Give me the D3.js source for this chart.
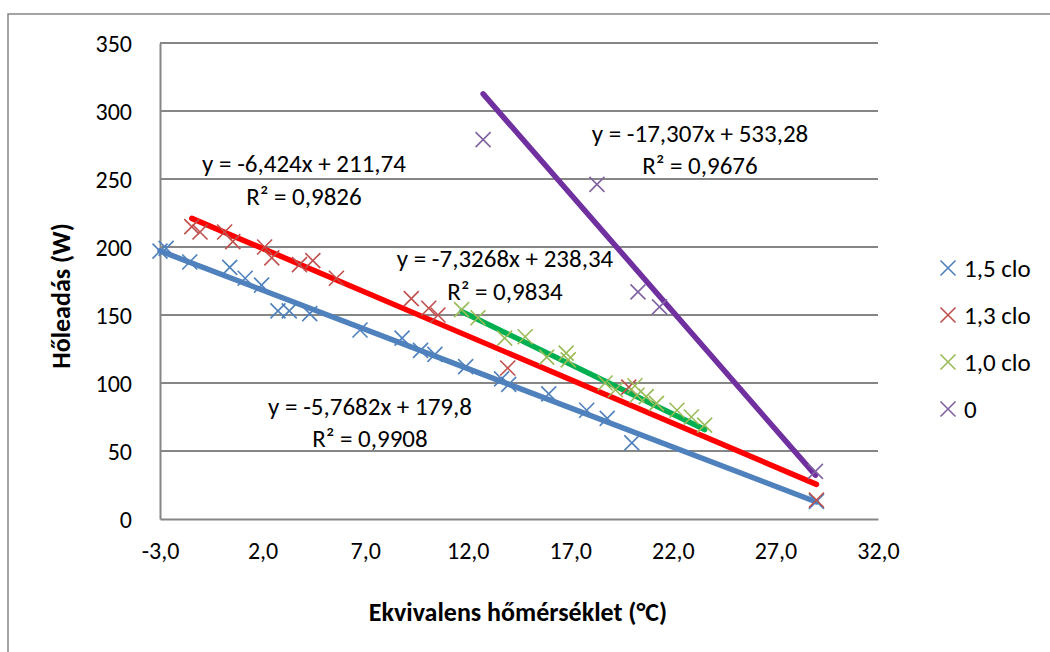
<!DOCTYPE html>
<html>
<head>
<meta charset="utf-8">
<script src="https://cdn.jsdelivr.net/npm/d3@7"></script>
<style>
  html, body { margin: 0; padding: 0; background: #fff; }
  svg { display: block; }
  text { font-family: Carlito, Lato, "Open Sans", sans-serif; fill: #000; }
</style>
</head>
<body>
<svg id="chart" width="1050" height="652"></svg>
<script>
// Equivalent temperature (°C) vs. heat loss (W) for four clothing levels
const seriesNames = ["1,5 clo", "1,3 clo", "1,0 clo", "0"];

const x15 = [-3.0, -2.7, -1.55, 0.4, 1.15, 1.95, 2.75, 3.3, 4.3, 6.75, 8.8, 9.7, 10.4, 11.9, 13.65, 14.0, 15.95, 17.8, 18.8, 20.0, 29.0];
const y15 = [197, 199, 189, 185, 177, 172, 153, 153, 151, 139, 133, 124, 121, 112, 103, 99, 92, 80, 74, 56, 13];

const x13 = [-1.45, -1.05, 0.15, 0.55, 2.1, 2.45, 3.8, 4.45, 5.6, 9.25, 10.1, 10.55, 13.95, 19.85, 29.0];
const y13 = [215, 211, 211, 204, 200, 192, 187, 190, 177, 162, 155, 150, 111, 97, 14];

const x10 = [11.7, 12.5, 13.8, 14.8, 15.85, 16.8, 16.9, 18.7, 19.2, 20.15, 20.25, 20.7, 21.2, 22.2, 22.9, 23.55];
const y10 = [154, 148, 133, 134, 119, 122, 117, 100, 95, 98, 91, 90, 85, 80, 75, 69];

const x0 = [12.75, 18.3, 20.3, 21.35, 28.95];
const y0 = [279, 246, 167, 156, 35];

// Linear trendlines: slope, intercept, R²
const slopes = [-5.7682, -6.424, -7.3268, -17.307];
const intercepts = [179.8, 211.74, 238.34, 533.28];
const r2 = ["0,9908", "0,9826", "0,9834", "0,9676"];
const eqText = ["y = -5,7682x + 179,8", "y = -6,424x + 211,74", "y = -7,3268x + 238,34", "y = -17,307x + 533,28"];

const xTicks = [-3, 2, 7, 12, 17, 22, 27, 32];
const yTicks = [0, 50, 100, 150, 200, 250, 300, 350];

const markerColors = ["#4F81BD", "#C0504D", "#9BBB59", "#8064A2"];
const lineColors = ["#4F81BD", "#FF0000", "#00B050", "#7030A0"];

const xs = [x15, x13, x10, x0];
const ys = [y15, y13, y10, y0];

const svg = d3.select("#chart");

// outer chart frame
svg.append("rect")
  .attr("x", 8).attr("y", 14).attr("width", 1100).attr("height", 700)
  .attr("fill", "none").attr("stroke", "#868686").attr("stroke-width", 1.5);

const x = d3.scaleLinear().domain([-3, 32]).range([160, 878]);
const y = d3.scaleLinear().domain([0, 350]).range([519, 43]);

// one decimal, decimal comma, plain hyphen for negatives
const fmtX = d => d.toFixed(1).replace(".", ",");

// horizontal gridlines
svg.append("g").selectAll("line").data(yTicks.filter(d => d > 0)).join("line")
  .attr("x1", x(-3)).attr("x2", x(32))
  .attr("y1", d => y(d)).attr("y2", d => y(d))
  .attr("stroke", "#868686").attr("stroke-width", 2);

// y axis
const yAxis = svg.append("g")
  .attr("transform", `translate(${x(-3)},0)`)
  .call(d3.axisLeft(y).tickValues(yTicks).tickSize(0).tickPadding(28));
yAxis.select(".domain").attr("stroke", "#868686").attr("stroke-width", 2);
yAxis.selectAll("text").style("font-size", "24px").attr("dy", "0.35em");

// x axis
const xAxis = svg.append("g")
  .attr("transform", `translate(0,${y(0)})`)
  .call(d3.axisBottom(x).tickValues(xTicks).tickFormat(fmtX).tickSize(0).tickPadding(32));
xAxis.select(".domain").attr("stroke", "#868686").attr("stroke-width", 2);
xAxis.selectAll("text").style("font-size", "24px").attr("dy", "0.35em");

// axis titles
svg.append("text")
  .attr("x", 518).attr("y", 612).attr("text-anchor", "middle").attr("dy", "0.35em")
  .style("font-size", "26px").style("font-weight", "bold")
  .text("Ekvivalens hőmérséklet (°C)");
svg.append("text")
  .attr("transform", "translate(61,296) rotate(-90)")
  .attr("text-anchor", "middle").attr("dy", "0.35em")
  .style("font-size", "26px").style("font-weight", "bold")
  .text("Hőleadás (W)");

// trendlines drawn from the stated equations across each series' range
const trend = svg.append("g");
seriesNames.forEach((name, i) => {
  const [lo, hi] = d3.extent(xs[i]);
  const pts = [lo, hi].map(v => [x(v), y(slopes[i] * v + intercepts[i])]);
  trend.append("path")
    .attr("d", d3.line()(pts))
    .attr("stroke", lineColors[i]).attr("stroke-width", 5.5)
    .attr("stroke-linecap", "round").attr("fill", "none");
});

// cross markers
const cross = (cx, cy, r) => `M${cx - r},${cy - r}L${cx + r},${cy + r}M${cx - r},${cy + r}L${cx + r},${cy - r}`;
const marks = svg.append("g");
seriesNames.forEach((name, i) => {
  const pts = xs[i].map((v, k) => [v, ys[i][k]]);
  marks.append("g").selectAll("path").data(pts).join("path")
    .attr("d", d => cross(x(d[0]), y(d[1]), 7.5))
    .attr("stroke", markerColors[i]).attr("stroke-width", 1.6).attr("fill", "none");
});

// equation labels (two lines each)
const eqPos = [[370, 406, 438], [304, 163, 196], [505, 258, 291], [700, 133, 165]];
const eqG = svg.append("g");
eqText.forEach((t, i) => {
  const [cx, y1, y2] = eqPos[i];
  eqG.append("text").attr("x", cx).attr("y", y1).attr("dy", "0.35em")
    .attr("text-anchor", "middle").style("font-size", "25px").text(t);
  eqG.append("text").attr("x", cx).attr("y", y2).attr("dy", "0.35em")
    .attr("text-anchor", "middle").style("font-size", "25px").text("R² = " + r2[i]);
});

// legend
const leg = svg.append("g");
seriesNames.forEach((name, i) => {
  const ly = 268 + i * 47;
  leg.append("path").attr("d", cross(948, ly, 7.5))
    .attr("stroke", markerColors[i]).attr("stroke-width", 1.6).attr("fill", "none");
  leg.append("text").attr("x", 964).attr("y", ly).attr("dy", "0.35em")
    .style("font-size", "25px").text(name);
});
</script>
</body>
</html>
